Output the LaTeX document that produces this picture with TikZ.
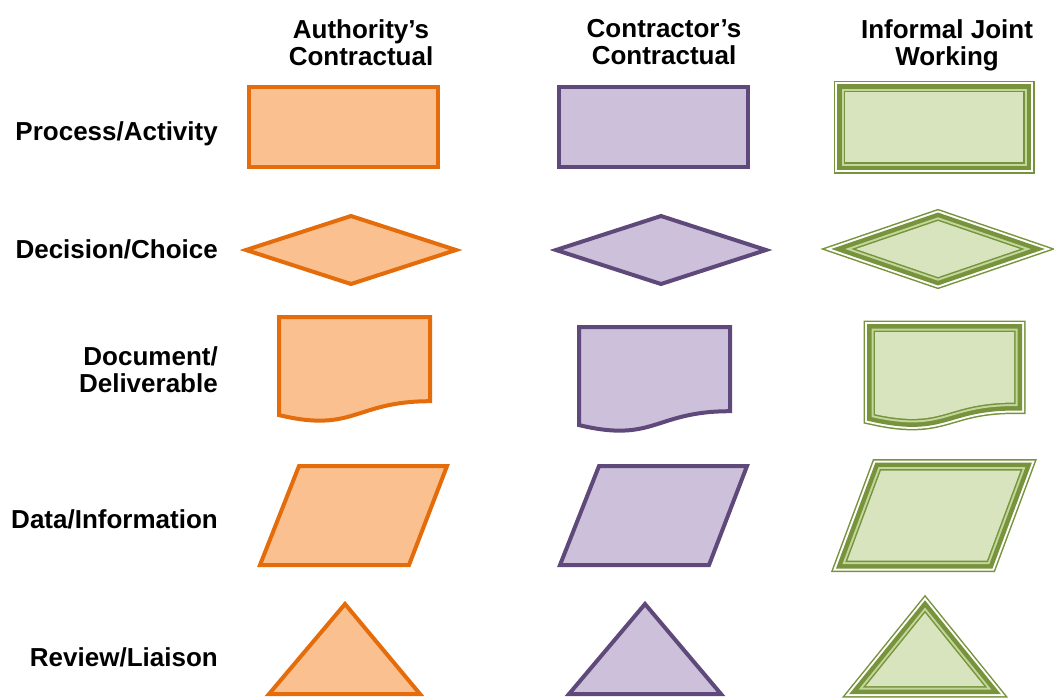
\documentclass[tikz,border=0pt]{standalone}
\usepackage{fontspec}
\setmainfont{Liberation Sans}
\usetikzlibrary{positioning}
\definecolor{authline}{HTML}{E46C0A}
\definecolor{authfill}{HTML}{FAC090}
\definecolor{contline}{HTML}{5F497A}
\definecolor{contfill}{HTML}{CCC0DA}
\definecolor{jointline}{HTML}{77933C}
\definecolor{jointgap}{HTML}{C3D69B}
\definecolor{jointfill}{HTML}{D7E4BD}
% document symbol: style, x, y, width, height
\newcommand{\docshape}[5]{%
  \path[#1] (#2,#3) -- ({#2+#4},#3) -- ({#2+#4},{#3+0.802*#5})
    .. controls ({#2+0.5*#4},{#3+0.802*#5}) and ({#2+0.5*#4},{#3+1.107*#5}) .. (#2,{#3+0.934*#5}) -- cycle;}

\begin{document}
\begin{tikzpicture}[x=1pt, y=-1pt, line join=miter, miter limit=20,
  legendtext/.style={font=\fontsize{26}{27}\selectfont\bfseries, inner sep=0pt},
  rowlabel/.style={legendtext, anchor=base east, align=right},
  colhead/.style={legendtext, anchor=north, align=center},
  auth/.style={draw=authline, fill=authfill, line width=4pt},
  cont/.style={draw=contline, fill=contfill, line width=4pt},
  joint/.style={fill=jointfill,
    preaction={draw=jointline, line width=23pt},
    preaction={draw=white, line width=20pt},
    preaction={draw=jointline, line width=16pt},
    preaction={draw=jointgap, line width=7pt},
    preaction={draw=jointline, line width=3pt}},
]
  \useasboundingbox (0,0) rectangle (1054,697);

  % column headings
  \node[colhead] (hauth)  at (361,19) {Authority’s\\Contractual};
  \node[colhead] (hcont)  at (664,19) {Contractor’s\\Contractual};
  \node[colhead] (hjoint) at (947,19) {Informal Joint\\Working};

  % row labels
  \node[rowlabel] (rprocess)  at (218,140) {Process/Activity};
  \node[rowlabel] (rdecision) at (218,258) {Decision/Choice};
  \node[rowlabel, anchor=north east] (rdocument) at (218,346) {Document/\\Deliverable};
  \node[rowlabel] (rdata)     at (218,528) {Data/Information};
  \node[rowlabel] (rreview)   at (218,666) {Review/Liaison};

  % process
  \path[auth] (249,87) rectangle (438,167);
  \path[cont] (559,87) rectangle (748,167);
  \path[joint] (845,92) rectangle (1023,162);

  % decision
  \path[auth] (246,250) -- (351,216) -- (456,250) -- (351,284) -- cycle;
  \path[cont] (556,250) -- (661,216) -- (766,250) -- (661,284) -- cycle;
  \path[joint] (856,249) -- (938,221) -- (1020,249) -- (938,277) -- cycle;

  % document
  \docshape{auth}{279}{317}{151}{105}
  \docshape{cont}{579}{327}{151}{105}
  \docshape{joint}{875}{332}{139}{88}

  % data
  \path[auth] (299,466) -- (447,466) -- (409,565) -- (260,565) -- cycle;
  \path[cont] (599,466) -- (747,466) -- (709,565) -- (560,565) -- cycle;
  \path[joint] (881,470.5) -- (1020.4,470.5) -- (986.9,560.5) -- (847.5,560.5) -- cycle;

  % review
  \path[auth] (345,604) -- (420,694) -- (269,694) -- cycle;
  \path[cont] (645,604) -- (721,694) -- (569,694) -- cycle;
  \path[joint] (925,613) -- (984,686) -- (866,686) -- cycle;
\end{tikzpicture}
\end{document}
